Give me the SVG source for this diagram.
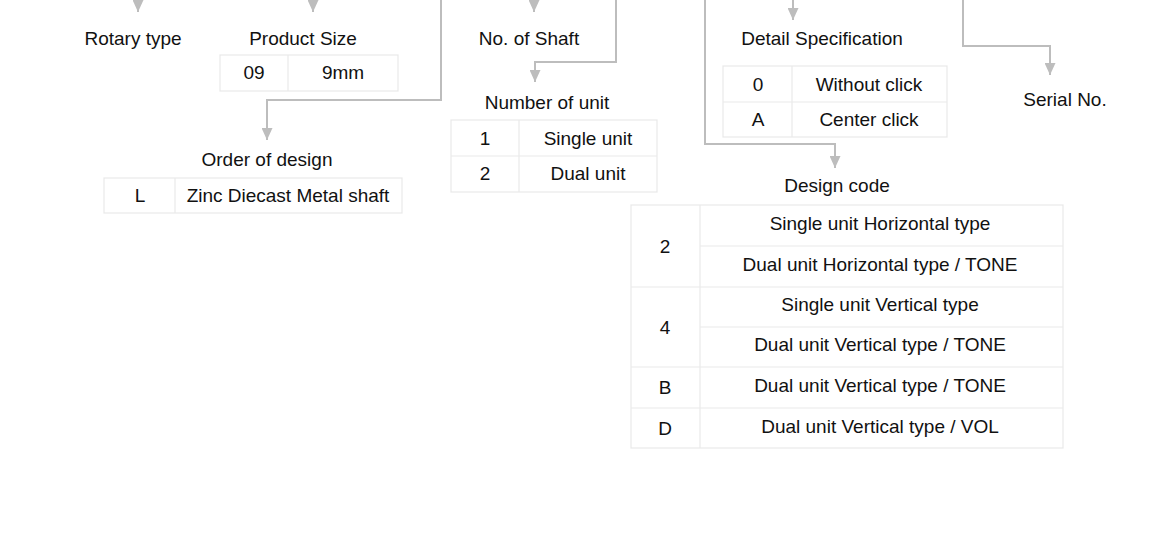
<svg xmlns="http://www.w3.org/2000/svg" width="1150" height="540" viewBox="0 0 1150 540">
<defs>
<style>
text{font-family:"Liberation Sans",Arial,sans-serif;font-size:19px;fill:#111;text-anchor:middle}
.cell{fill:#fff;stroke:#e9e9e9;stroke-width:1.2}
.div{stroke:#e9e9e9;stroke-width:1.2;fill:none}
.conn{fill:none;stroke:#bdbdbd;stroke-width:2;marker-end:url(#arr)}
</style>
<marker id="arr" markerUnits="userSpaceOnUse" viewBox="0 0 12 11" markerWidth="12" markerHeight="11" refX="12" refY="5.5" orient="auto">
<path d="M0,0 L12,5.5 L0,11 z" fill="#bdbdbd"/>
</marker>
</defs>
<rect width="1150" height="540" fill="#fff"/>
<g id="connectors">
<path class="conn" d="M138,-10 V12"/>
<path class="conn" d="M313,-10 V12"/>
<path class="conn" d="M441,-10 V100 H267 V140"/>
<path class="conn" d="M534,-10 V12"/>
<path class="conn" d="M616,-10 V62 H535 V82"/>
<path class="conn" d="M793,-10 V20"/>
<path class="conn" d="M705,-10 V144 H835 V168"/>
<path class="conn" d="M963,-10 V46 H1050 V75"/>
</g>
<g id="rotary-type">
<text x="133" y="45">Rotary type</text>
</g>
<g id="product-size">
<text x="303" y="45">Product Size</text>
<rect class="cell" x="220" y="55" width="178" height="36"/>
<line class="div" x1="288" y1="55" x2="288" y2="91"/>
<text x="254" y="79">09</text>
<text x="343" y="79">9mm</text>
</g>
<g id="order-of-design">
<text x="267" y="166">Order of design</text>
<rect class="cell" x="104" y="178" width="298" height="35"/>
<line class="div" x1="175" y1="178" x2="175" y2="213"/>
<text x="140" y="202">L</text>
<text x="288" y="202">Zinc Diecast Metal shaft</text>
</g>
<g id="no-of-shaft">
<text x="529" y="45">No. of Shaft</text>
</g>
<g id="number-of-unit">
<text x="547" y="109">Number of unit</text>
<rect class="cell" x="451" y="120" width="206" height="72"/>
<line class="div" x1="451" y1="156" x2="657" y2="156"/>
<line class="div" x1="519" y1="120" x2="519" y2="192"/>
<text x="485" y="145">1</text>
<text x="588" y="145">Single unit</text>
<text x="485" y="180">2</text>
<text x="588" y="180">Dual unit</text>
</g>
<g id="detail-specification">
<text x="822" y="45">Detail Specification</text>
<rect class="cell" x="723" y="66" width="224" height="71"/>
<line class="div" x1="723" y1="102" x2="947" y2="102"/>
<line class="div" x1="792" y1="66" x2="792" y2="137"/>
<text x="758" y="91">0</text>
<text x="869" y="91">Without click</text>
<text x="758" y="126">A</text>
<text x="869" y="126">Center click</text>
</g>
<g id="serial-no">
<text x="1065" y="106">Serial No.</text>
</g>
<g id="design-code">
<text x="837" y="192">Design code</text>
<rect class="cell" x="631" y="205" width="432" height="243"/>
<line class="div" x1="700" y1="205" x2="700" y2="448"/>
<line class="div" x1="700" y1="246" x2="1063" y2="246"/>
<line class="div" x1="631" y1="287" x2="1063" y2="287"/>
<line class="div" x1="700" y1="327" x2="1063" y2="327"/>
<line class="div" x1="631" y1="367" x2="1063" y2="367"/>
<line class="div" x1="631" y1="408" x2="1063" y2="408"/>
<text x="665" y="253">2</text>
<text x="665" y="334">4</text>
<text x="665" y="394">B</text>
<text x="665" y="435">D</text>
<text x="880" y="230">Single unit Horizontal type</text>
<text x="880" y="271">Dual unit Horizontal type / TONE</text>
<text x="880" y="311">Single unit Vertical type</text>
<text x="880" y="351">Dual unit Vertical type / TONE</text>
<text x="880" y="392">Dual unit Vertical type / TONE</text>
<text x="880" y="433">Dual unit Vertical type / VOL</text>
</g>
</svg>
